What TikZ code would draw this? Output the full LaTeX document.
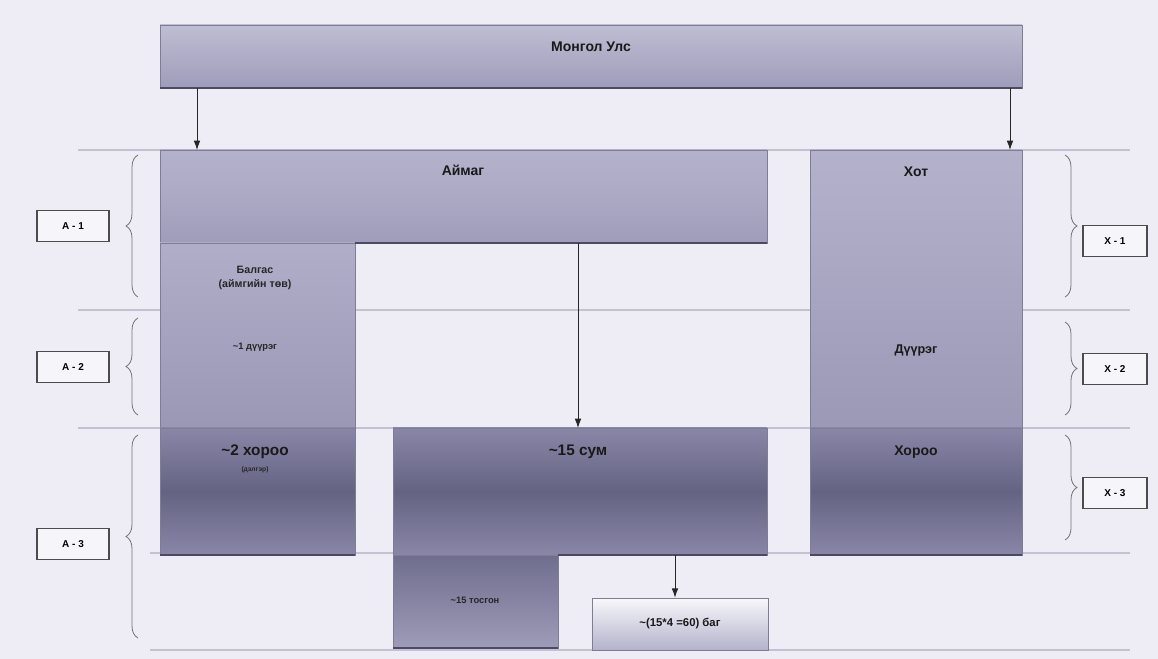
\documentclass[tikz,border=0pt]{standalone}
\usepackage{fontspec}
\setmainfont{Liberation Sans}
\usepackage{tikz}
\usetikzlibrary{positioning, calc, arrows.meta, decorations.pathreplacing}

\definecolor{bgpage}{HTML}{EEEDF5}
\definecolor{rule}{HTML}{C4C2D2}
\definecolor{edge}{HTML}{4C4A62}
\definecolor{lite}{HTML}{B4B2CB}
\definecolor{mid}{HTML}{9E9CB9}
\definecolor{deep}{HTML}{8986A7}
\definecolor{dark}{HTML}{656382}

\begin{document}
\begin{tikzpicture}[x=0.75pt, y=-0.75pt,
    band/.style={draw=mid!80!black, line width=0.4pt},
    upper/.style={band, top color=lite, bottom color=mid, middle color=lite!60!mid},
    lower/.style={band, top color=deep, bottom color=deep, middle color=dark},
    shade/.style={edge, line width=1.6pt},
    lbl/.style={font=\bfseries\fontsize{10.5}{12}\selectfont, text=black!90},
    big/.style={font=\bfseries\fontsize{11.5}{13}\selectfont, text=black!90},
    tiny/.style={font=\bfseries\fontsize{7}{8.5}\selectfont, text=black!85, align=center},
    lvl/.style={draw=black!70, line width=0.9pt, fill=bgpage!50!white, minimum width=54pt,
                minimum height=23pt, font=\bfseries\fontsize{7.5}{8}\selectfont},
    brc/.style={decorate, decoration={brace, amplitude=9pt}, draw=black!55, line width=0.6pt},
    arr/.style={-{Latex[length=7pt, width=5pt]}, line width=0.7pt, black!85}]

  \useasboundingbox[fill=bgpage] (0,0) rectangle (1158,659);

  % level rules
  \foreach \yy in {150,310,428}
    \draw[rule, line width=0.8pt] (78,\yy) -- (1130,\yy);
  \foreach \yy in {553,650}
    \draw[rule, line width=0.8pt] (150,\yy) -- (1130,\yy);

  % Mongol Uls
  \shade[upper, top color=lite!85!white, bottom color=mid] (160,25) rectangle (1022,88);
  \draw[shade] (160,88) -- (1022,88);
  \node[lbl] (mongol) at (591,47) {Монгол Улс};

  % aimag column
  \shade[upper] (160,150) rectangle (767,243);
  \shade[upper, top color=lite!80!mid, bottom color=mid!80!deep] (160,243) rectangle (355,428);
  \shade[lower] (160,428) rectangle (355,555);
  \draw[shade] (355,243) -- (767,243);
  \draw[shade] (160,555) -- (355,555);
  \node[lbl] (aimag) at (463,170) {Аймаг};
  \node[tiny, font=\bfseries\fontsize{8}{10}\selectfont] (balgas) at (255,278) {Балгас\\(аймгийн төв)};
  \node[tiny] (duureg1) at (255,347) {\textasciitilde1 дүүрэг};
  \node[big] (khoroo2) at (255,452) {\textasciitilde2 хороо};
  \node[tiny, font=\bfseries\fontsize{5}{6}\selectfont] (delger) at (255,470) {(дэлгэр)};

  % sum block
  \shade[lower] (393,428) rectangle (767,555);
  \shade[upper, top color=dark!70!deep, bottom color=mid] (393,555) rectangle (558,648);
  \draw[shade] (558,555) -- (767,555);
  \draw[shade] (393,648) -- (558,648);
  \node[big] (sum) at (578,452) {\textasciitilde15 сум};
  \node[tiny] (tosgon) at (475,600) {\textasciitilde15 тосгон};
  \node[band, top color=bgpage!40!white, bottom color=lite, minimum width=132pt, minimum height=39pt,
        font=\bfseries\fontsize{8.5}{10}\selectfont, text=black!90] (bag) at (680,624) {\textasciitilde(15*4 =60) баг};

  % khot column
  \shade[upper, middle color=mid!80!lite, bottom color=mid!85!deep] (810,150) rectangle (1022,428);
  \shade[lower] (810,428) rectangle (1022,555);
  \draw[shade] (810,555) -- (1022,555);
  \node[lbl] (khot) at (916,172) {Хот};
  \node[lbl, font=\bfseries\fontsize{9.5}{11}\selectfont] (duureg) at (916,350) {Дүүрэг};
  \node[lbl] (khoroo) at (916,452) {Хороо};

  % arrows
  \coordinate (mongolL) at (197,88);
  \coordinate (mongolR) at (1010,88);
  \coordinate (aimagtop) at (197,150);
  \coordinate (khottop) at (1010,150);
  \draw[arr] (mongolL) -- (aimagtop);
  \draw[arr] (mongolR) -- (khottop);
  \coordinate (aimagfoot) at (578,243);
  \coordinate (sumtop) at (578,428);
  \draw[arr] (aimagfoot) -- (sumtop);
  \coordinate (sumfoot) at (675,555);
  \draw[arr] (sumfoot) -- (bag.north -| sumfoot);

  % left levels
  \node[lvl] (a1) at (73,226) {А - 1};
  \node[lvl] (a2) at (73,367) {А - 2};
  \node[lvl] (a3) at (73,544) {А - 3};
  \draw[brc] (138,297) -- (138,155);
  \draw[brc] (138,415) -- (138,318);
  \draw[brc] (138,638) -- (138,435);

  % right levels
  \node[lvl, minimum width=48pt] (x1) at (1115,241) {Х - 1};
  \node[lvl, minimum width=48pt] (x2) at (1115,369) {Х - 2};
  \node[lvl, minimum width=48pt] (x3) at (1115,493) {Х - 3};
  \draw[brc] (1065,155) -- (1065,297);
  \draw[brc] (1065,322) -- (1065,415);
  \draw[brc] (1065,435) -- (1065,540);
\end{tikzpicture}
\end{document}
